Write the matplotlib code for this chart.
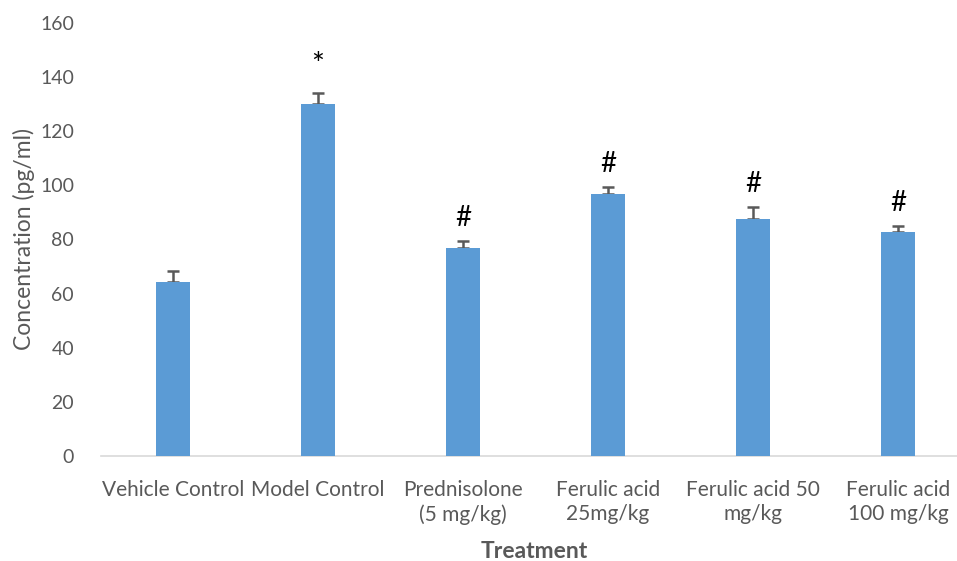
import matplotlib
matplotlib.use("Agg")
import matplotlib.pyplot as plt

categories = ["Vehicle Control", "Model Control", "Prednisolone\n(5 mg/kg)",
              "Ferulic acid\n25mg/kg", "Ferulic acid 50\nmg/kg", "Ferulic acid\n100 mg/kg"]
values = [64.3, 130.0, 76.9, 96.8, 87.6, 82.7]
errors = [4.1, 4.3, 2.7, 2.7, 4.4, 2.4]
marks = ["", "*", "#", "#", "#", "#"]
yticks = [0, 20, 40, 60, 80, 100, 120, 140, 160]

plt.rcParams['font.family'] = ['Lato', 'DejaVu Sans']

W, H = 957, 561
fig = plt.figure(figsize=(W/100, H/100), dpi=100)
left = 100.5 / W
bottom = (H - 456) / H
top = (H - 23) / H
ax = fig.add_axes([left, bottom, 1 - left, top - bottom])

x = list(range(len(categories)))
ax.bar(x, values, width=0.24, color="#5B9BD5", zorder=3)
ax.errorbar(x, values, yerr=[[0]*len(errors), errors], fmt="none",
            ecolor="#595959", elinewidth=1.8, capsize=4.3, capthick=1.8, zorder=2)

for xi, v, e, m in zip(x, values, errors, marks):
    if m == "#":
        ax.annotate(m, (xi, v + e), xytext=(0, 7), textcoords="offset points",
                    ha="center", va="bottom", fontsize=20, color="black")
    elif m:
        ax.annotate(m, (xi, v + e), xytext=(0, 10), textcoords="offset points",
                    ha="center", va="bottom", fontsize=22, color="black")

ax.set_xlim(-0.5, -0.5 + (W - 100.5) / 145)
ax.set_ylim(0, 160)
ax.set_yticks(yticks)
ax.set_xticks(x)
ax.set_xticklabels(categories)
ax.tick_params(axis="x", length=0, labelsize=15, colors="#595959", pad=17)
ax.tick_params(axis="y", length=0, labelsize=14, colors="#595959", pad=19)
for lbl in ax.get_xticklabels():
    lbl.set_linespacing(1.3)
for s in ["top", "right", "left"]:
    ax.spines[s].set_visible(False)
ax.spines["bottom"].set_color("#D9D9D9")
ax.spines["bottom"].set_linewidth(1.2)

ax.set_ylabel("Concentration (pg/ml)", fontsize=16.5, color="#595959", labelpad=4)
fig.text(534 / W, 1 - 551 / H, "Treatment", fontsize=16.5, color="#595959",
         fontweight="bold", ha="center", va="center")

fig.savefig("out.png", dpi=100)
